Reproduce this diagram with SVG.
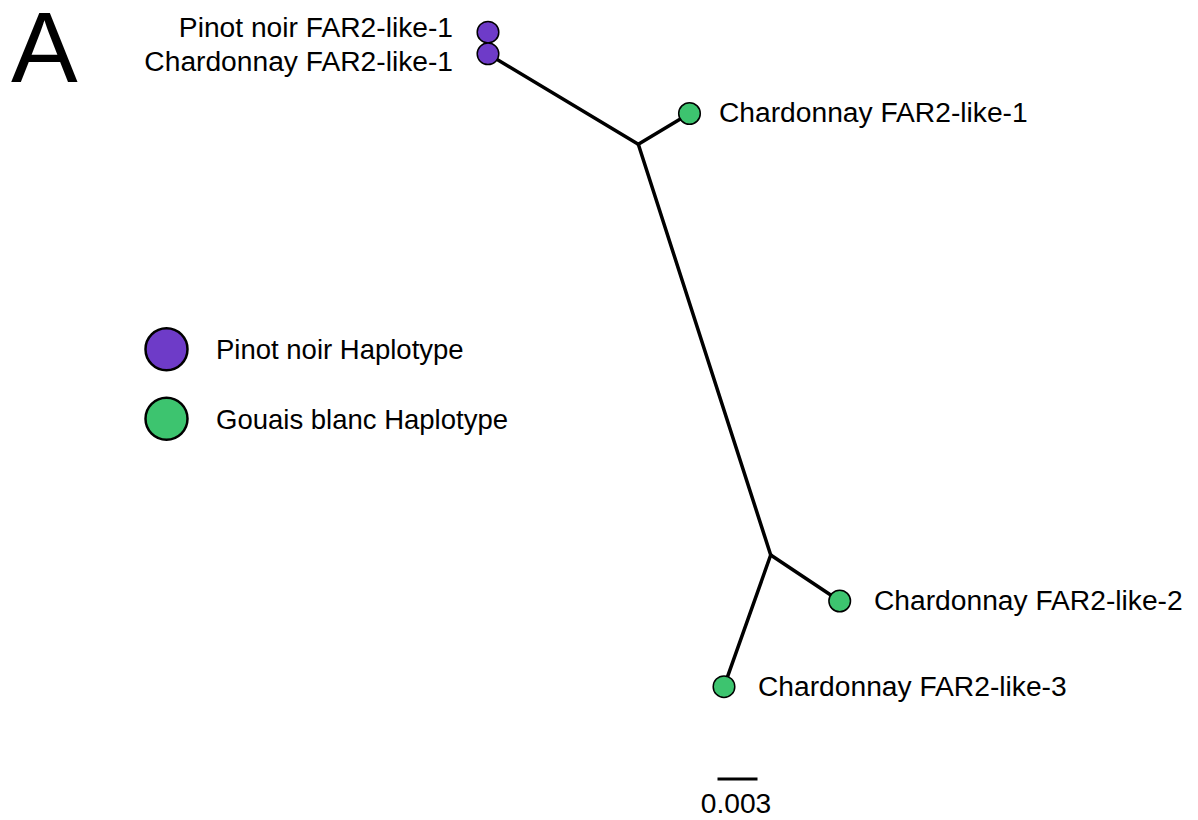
<svg xmlns="http://www.w3.org/2000/svg" width="1198" height="820" viewBox="0 0 1198 820">
<style>
text{font-family:"Liberation Sans",Arial,Helvetica,sans-serif;fill:#000;font-size:28.2px}
.edge{stroke:#000;stroke-width:3.5;stroke-linecap:round;fill:none}
.pn{fill:#6E3BC8;stroke:#000;stroke-width:1.5}
.gb{fill:#3DC46F;stroke:#000;stroke-width:1.5}
.lg{stroke-width:2.5}
.leg{font-size:27.5px}
</style>
<rect width="1198" height="820" fill="#fff"/>
<text x="11" y="82" style="font-size:100px">A</text>
<g id="connectors">
<line class="edge" x1="488" y1="54" x2="638.3" y2="144.3"/>
<line class="edge" x1="638.3" y1="144.3" x2="689.5" y2="113.5"/>
<line class="edge" x1="638.3" y1="144.3" x2="770.7" y2="555"/>
<line class="edge" x1="770.7" y1="555" x2="839.7" y2="601"/>
<line class="edge" x1="770.7" y1="555" x2="724" y2="686.7"/>
</g>
<g id="node-pn1">
<circle class="pn" cx="488" cy="32.2" r="10.8"/>
<text x="453" y="37" text-anchor="end">Pinot noir FAR2-like-1</text>
</g>
<g id="node-ch1-pn">
<circle class="pn" cx="488" cy="53.8" r="10.8"/>
<text x="453" y="71" text-anchor="end">Chardonnay FAR2-like-1</text>
</g>
<g id="node-ch1-gb">
<circle class="gb" cx="689.5" cy="113.5" r="10.8"/>
<text x="719" y="122">Chardonnay FAR2-like-1</text>
</g>
<g id="node-ch2">
<circle class="gb" cx="839.7" cy="601" r="10.8"/>
<text x="874" y="610">Chardonnay FAR2-like-2</text>
</g>
<g id="node-ch3">
<circle class="gb" cx="724" cy="686.7" r="10.8"/>
<text x="758" y="696">Chardonnay FAR2-like-3</text>
</g>
<g id="legend">
<circle class="pn lg" cx="166.5" cy="349.2" r="21"/>
<text class="leg" x="216" y="359">Pinot noir Haplotype</text>
<circle class="gb lg" cx="166.5" cy="418.7" r="21"/>
<text class="leg" x="216" y="429">Gouais blanc Haplotype</text>
</g>
<g id="scale">
<line x1="717.5" y1="779" x2="757.5" y2="779" stroke="#000" stroke-width="3"/>
<text x="736" y="813" text-anchor="middle">0.003</text>
</g>
</svg>
